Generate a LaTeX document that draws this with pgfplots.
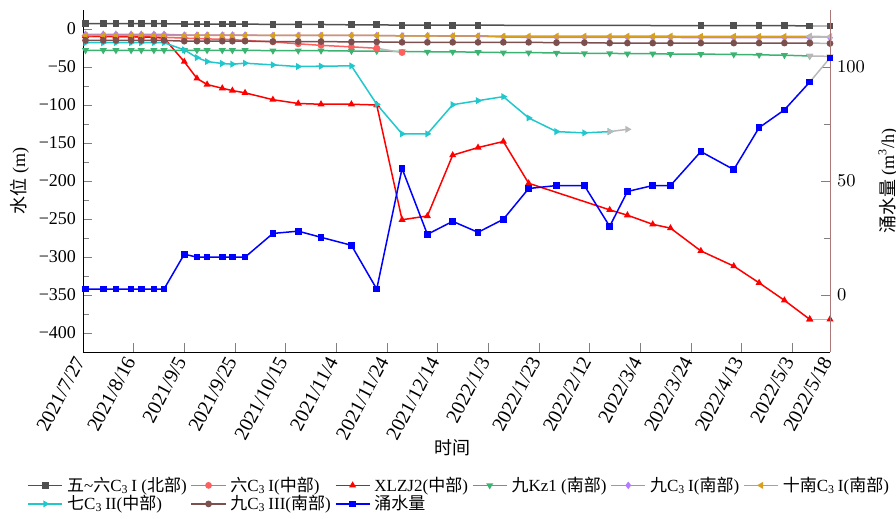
\documentclass[border=0pt]{standalone}
\usepackage{fontspec}
\setmainfont{Liberation Serif}
\newfontfamily\cjk{Noto Sans CJK SC}
\usepackage{pgfplots}
\pgfplotsset{compat=1.18}
\newcommand{\zh}[1]{{\cjk #1}}
\definecolor{cgray}{RGB}{80,80,80}
\definecolor{clred}{RGB}{255,95,95}
\definecolor{cred}{RGB}{255,0,0}
\definecolor{cgreen}{RGB}{60,179,113}
\definecolor{cpurple}{RGB}{180,125,255}
\definecolor{corange}{RGB}{215,160,30}
\definecolor{ccyan}{RGB}{32,200,205}
\definecolor{cbrown}{RGB}{125,80,80}
\definecolor{cblue}{RGB}{0,0,255}
\definecolor{clast}{RGB}{185,185,185}
\definecolor{caxr}{RGB}{170,120,120}
\pgfplotsset{
  ser/.style 2 args={color=#1, mark=#2, mark size=1.3pt, line width=0.75pt, mark options={solid, fill=#1, draw=#1}},
  lastseg/.style 2 args={forget plot, color=clast, line width=0.75pt, mark=#2, mark size=1.3pt, mark options={solid, fill=#1, draw=#1}},
}
\begin{document}
\begin{tikzpicture}[font=\fontsize{9}{11}\selectfont]
\useasboundingbox (-41.5pt,-83.5pt) rectangle (406.5pt,176pt);
\begin{axis}[
  scale only axis, width=373.5pt, height=171pt,
  xmin=0, xmax=295, ymin=-425, ymax=25,
  axis x line*=bottom, axis y line*=left,
  tick align=inside,
  xtick={0,20,40,60,80,100,120,140,160,180,200,220,240,260,280,295},
  xticklabels={2021/7/27,2021/8/16,2021/9/5,2021/9/25,2021/10/15,2021/11/4,2021/11/24,2021/12/14,2022/1/3,2022/1/23,2022/2/12,2022/3/4,2022/3/24,2022/4/13,2022/5/3,2022/5/18},
  minor x tick num=1,
  xticklabel style={rotate=62, anchor=east, font=\fontsize{10}{12}\selectfont},
  ytick={-400,-350,-300,-250,-200,-150,-100,-50,0},
  yticklabels={−400,−350,−300,−250,−200,−150,−100,−50,0},
  minor y tick num=1,
  xlabel={\zh{时间}}, ylabel={\zh{水位} (m)},
  xlabel style={at={(axis description cs:0.495,-0.281)}, anchor=center},
  ylabel style={yshift=-2pt},
  legend columns=6,
  legend cell align=left,
  legend style={at={(0.505,-0.35)}, anchor=north, draw=none, fill=none,
    font=\fontsize{8.5}{10}\selectfont,
    nodes={inner ysep=0.3pt},
    /tikz/every even column/.append style={column sep=0pt}},
]
% 五~六C3I (北部)
\addplot[ser={cgray}{square*}] coordinates {(1,7)(8,7)(13,7)(19,7)(23,7)(28,7)(32,7)(40,6.5)(45,6.5)(49,6.5)(55,6.5)(59,6.5)(64,6.5)(75,6)(85,6)(94,6)(106,5.5)(116,5.5)(126,5)(136,5)(146,5)(156,5)(244,4.5)(257,4.5)(267,4.5)(277,4.5)(287,4)};
\addlegendentry{\zh{五}\textasciitilde\zh{六}C\textsubscript{3}\,I (\zh{北部})}
% 六C3I (中部)
\addplot[ser={clred}{*}] coordinates {(1,-10)(8,-10)(13,-10)(19,-10)(23,-10.5)(28,-10.5)(32,-11)(40,-12)(45,-12.5)(49,-13)(55,-13.5)(59,-14)(64,-15)(75,-17)(85,-19.5)(94,-21.5)(106,-23.5)(116,-25.3)};
\addlegendentry{\zh{六}C\textsubscript{3}\,I(\zh{中部})}
% XLZJ2
\addplot[ser={cred}{triangle*}] coordinates {(1,-9)(8,-9.5)(13,-10)(19,-10)(23,-10.5)(28,-11)(32,-12)(40,-43)(45,-65)(49,-73)(55,-78)(59,-81)(64,-84)(75,-93)(85,-98)(94,-99)(106,-99)(116,-100)(126,-251)(136,-246)(146,-166)(156,-156)(166,-148)(176,-203)(208,-238)(215,-245)(225,-257)(232,-262)(244,-292)(257,-312)(267,-334)(277,-357)(287,-382)};
\addlegendentry{XLZJ2(\zh{中部})}
% 九Kz1
\addplot[ser={cgreen}{triangle*}, mark options={rotate=180}] coordinates {(1,-28)(8,-28)(13,-28)(19,-28)(23,-28)(28,-28)(32,-28)(40,-28)(45,-28)(49,-28)(55,-28)(59,-28)(64,-28)(75,-28.5)(85,-28.5)(94,-28.5)(106,-29)(116,-29)(126,-29.5)(136,-30)(146,-30)(156,-30.5)(166,-31)(176,-31)(187,-31.5)(198,-32)(208,-32)(215,-32.5)(225,-32.5)(232,-33)(244,-33)(257,-33.5)(267,-34)(277,-34.5)(287,-35.5)};
\addlegendentry{\zh{九}Kz1 (\zh{南部})}
% 九C3I
\addplot[ser={cpurple}{diamond*}] coordinates {(1,-7)(8,-7)(13,-7)(19,-7)(23,-7)(28,-7)(32,-7)(40,-8)(45,-8)(49,-8)(55,-8)(59,-8)(64,-8)(75,-8.5)(85,-8.5)(94,-8.5)(106,-8.5)(116,-8.5)(126,-9)(136,-9)(146,-9.5)(156,-9.5)(166,-10.5)(176,-11)(187,-11)(198,-11)(208,-11)(215,-11)(225,-11)(232,-11)(244,-11.5)(257,-11.5)(267,-11.5)(277,-11.5)(287,-11.5)};
\addlegendentry{\zh{九}C\textsubscript{3}\,I(\zh{南部})}
% 十南C3I
\addplot[ser={corange}{triangle*}, mark options={rotate=90}] coordinates {(1,-8.5)(8,-8.5)(13,-8.5)(19,-8.5)(23,-8.5)(28,-8.5)(32,-8.5)(40,-8.5)(45,-8.5)(49,-8.5)(55,-8.5)(59,-8.5)(64,-8.5)(75,-8.5)(85,-8.5)(94,-8.5)(106,-8.5)(116,-8.5)(126,-9)(136,-9)(146,-9)(156,-9)(166,-9.5)(176,-9.5)(187,-9.5)(198,-9.5)(208,-9.5)(215,-9.5)(225,-9.5)(232,-9.5)(244,-9.7)(257,-9.7)(267,-9.7)(277,-9.7)(287,-9.7)};
\addlegendentry{\zh{十南}C\textsubscript{3}\,I(\zh{南部})}
% 七C3II
\addplot[ser={ccyan}{triangle*}, mark options={rotate=-90}] coordinates {(1,-18)(8,-18)(13,-18)(19,-18)(23,-18)(28,-18)(32,-18)(40,-27.5)(45,-37.6)(49,-42.8)(55,-45.4)(59,-46.3)(64,-45)(75,-47.2)(85,-49.4)(94,-48.9)(106,-48.5)(116,-99)(126,-138)(136,-138)(146,-99.6)(156,-94.3)(166,-89)(176,-117)(187,-135)(198,-136.7)(208,-135)};
\addlegendentry{\zh{七}C\textsubscript{3}\,II(\zh{中部})}
% 九C3III
\addplot[ser={cbrown}{*}] coordinates {(1,-15)(8,-15)(13,-15)(19,-15)(23,-15)(28,-15)(32,-15)(40,-16)(45,-16)(49,-16)(55,-16)(59,-16)(64,-16)(75,-16.5)(85,-16.5)(94,-16.5)(106,-17)(116,-17)(126,-17.5)(136,-17.5)(146,-17.5)(156,-17.5)(166,-17.5)(176,-17.5)(187,-18)(198,-18)(208,-18.5)(215,-18.5)(225,-18.5)(232,-18.5)(244,-18.5)(257,-18.5)(267,-18.5)(277,-18.5)(287,-18.5)};
\addlegendentry{\zh{九}C\textsubscript{3}\,III(\zh{南部})}
\addlegendimage{ser={cblue}{square*}}
\addlegendentry{\zh{涌水量}}
% last gray segments
\addplot[lastseg={cgray}{square*}] coordinates {(287,4)(295,4)};
\addplot[lastseg={clred}{*}] coordinates {(116,-25.3)(126,-31)};
\addplot[lastseg={cred}{triangle*}] coordinates {(287,-382)(295,-382)};
\addplot[lastseg={cgreen}{triangle*}, mark options={rotate=180}] coordinates {(287,-35.5)(295,-36)};
\addplot[lastseg={cpurple}{diamond*}] coordinates {(287,-11.5)(295,-11.5)};
\addplot[lastseg={corange}{triangle*}, mark options={rotate=90}] coordinates {(287,-9.7)(295,-10)};
\addplot[lastseg={ccyan}{triangle*}, mark options={rotate=-90}] coordinates {(208,-135)(215,-132)};
\addplot[lastseg={cbrown}{*}] coordinates {(287,-18.5)(295,-19)};
\end{axis}
\begin{axis}[
  scale only axis, width=373.5pt, height=171pt,
  xmin=0, xmax=295, ymin=-25, ymax=125,
  axis x line=none, axis y line*=right,
  y axis line style={color=caxr},
  tick align=inside,
  ytick={0,50,100}, minor y tick num=1,
  ylabel={\zh{涌水量} (m\textsuperscript{3}/h)},
]
\addplot[ser={cblue}{square*}] coordinates {(1,2.6)(8,2.6)(13,2.6)(19,2.6)(23,2.6)(28,2.6)(32,2.6)(40,17.9)(45,16.6)(49,16.6)(55,16.6)(59,16.6)(64,16.6)(75,27)(85,28)(94,25.3)(106,21.8)(116,2.6)(126,55.5)(136,26.6)(146,32.3)(156,27.5)(166,33.2)(176,46.7)(187,48)(198,48)(208,30.1)(215,45.4)(225,48)(232,48)(244,62.9)(257,55)(267,73.4)(277,81.2)(287,93.4)};
\addplot[lastseg={cblue}{square*}] coordinates {(287,93.4)(295,104)};
\end{axis}
\end{tikzpicture}
\end{document}
